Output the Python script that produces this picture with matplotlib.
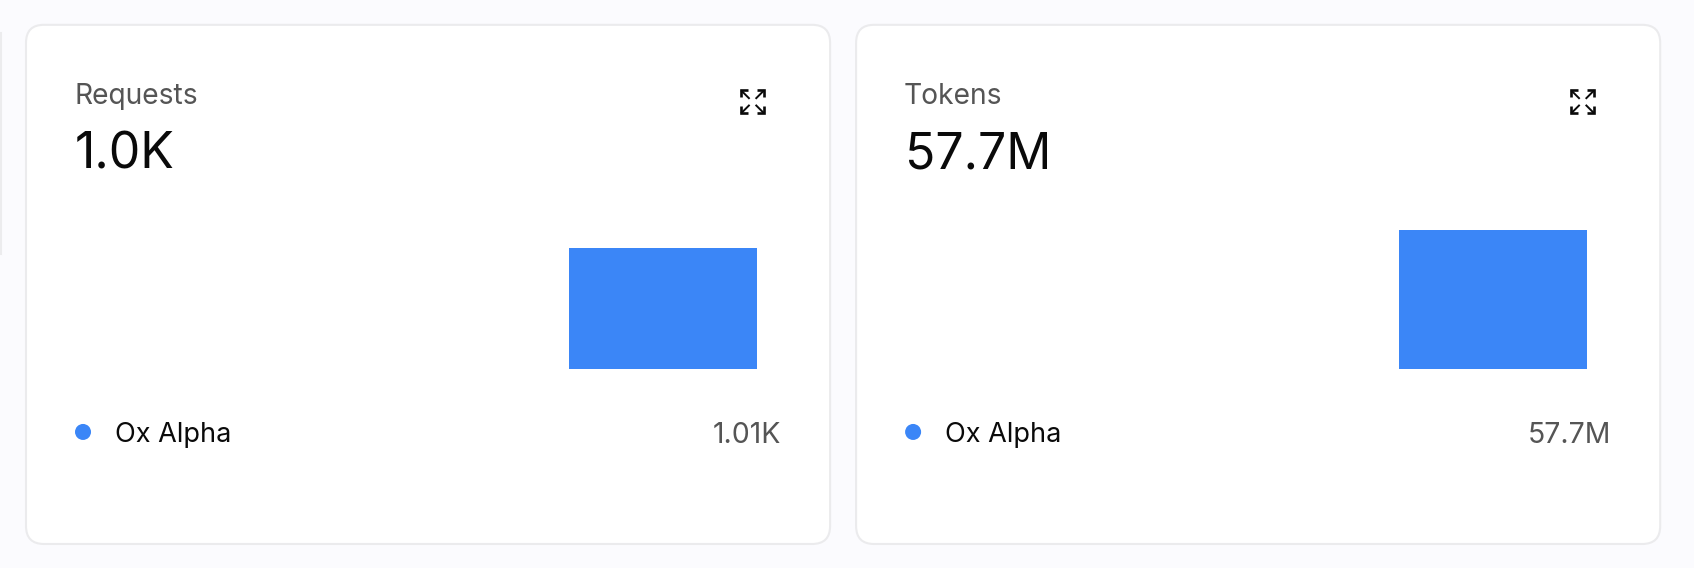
import matplotlib
matplotlib.use("Agg")
import matplotlib.pyplot as plt
from matplotlib.patches import FancyBboxPatch, Circle

# valores
titulos = ["Requests", "Tokens"]
totais = ["1.0K", "57.7M"]
serie = "Ox Alpha"
periodos = ["anterior", "atual"]
requests = [0, 1010]
tokens = [0, 57700000]
rotulos = ["1.01K", "57.7M"]
limites = [1200, 60000000]

L, A = 1694, 568
AZUL = "#3b86f7"
plt.rcParams['font.family'] = ['Inter', 'DejaVu Sans']

fig = plt.figure(figsize=((L + 0.2) / 100, (A + 0.2) / 100), dpi=100, facecolor="#fbfbfe")
fundo = fig.add_axes([0, 0, 1, 1])
fundo.set_xlim(0, L)
fundo.set_ylim(A, 0)
fundo.axis("off")

# resto do cartao anterior na borda esquerda
fundo.plot([0.5, 0.5], [33, 254], color="#ececee", lw=1.5)


def icone(ax, x0, y0):
    # setas do botao de expandir
    t = 23
    for (cx, cy, dx, dy) in [(x0, y0, 1, 1), (x0 + t, y0, -1, 1), (x0, y0 + t, 1, -1), (x0 + t, y0 + t, -1, -1)]:
        ax.plot([cx + 7 * dx, cx, cx], [cy, cy, cy + 7 * dy], color="#0a0a0a", lw=1.9, solid_joinstyle="miter", solid_capstyle="butt")
        ax.plot([cx, cx + 8.5 * dx], [cy, cy + 8.5 * dy], color="#0a0a0a", lw=1.4, solid_capstyle="butt")


for i, valores in enumerate([requests, tokens]):
    dx = 830 * i
    fundo.add_patch(FancyBboxPatch((26 + dx + 18, 25 + 18), 804 - 36, 519 - 36,
                                   boxstyle="round,pad=18,rounding_size=18",
                                   fc="white", ec="#ebebed", lw=1.5))
    fundo.text(74 + dx, 103.5, titulos[i], fontsize=20.3, color="#555555", va="baseline", ha="left")
    fundo.text(74.5 + dx, 168, totais[i], fontsize=36, color="#0a0a0a", va="baseline", ha="left")
    icone(fundo, 741 + dx, 90.5)
    fundo.add_patch(Circle((83 + dx, 432), 8, fc=AZUL, ec="none"))
    fundo.text(115 + dx, 442, serie, fontsize=19.5, color="#0a0a0a", va="baseline", ha="left")
    fundo.text(780.5 + dx, 442.5, rotulos[i], fontsize=20.5, color="#555555", va="baseline", ha="right")

    # barras: o periodo anterior vale zero
    ax = fig.add_axes([(381 + dx) / L, (A - 369) / A, 376 / L, 144 / A])
    ax.bar(periodos, valores, width=1.0, color=AZUL)
    ax.set_xlim(-0.5, 1.5)
    ax.set_ylim(0, limites[i])
    ax.axis("off")

fig.savefig("out.png", dpi=100, facecolor=fig.get_facecolor())
